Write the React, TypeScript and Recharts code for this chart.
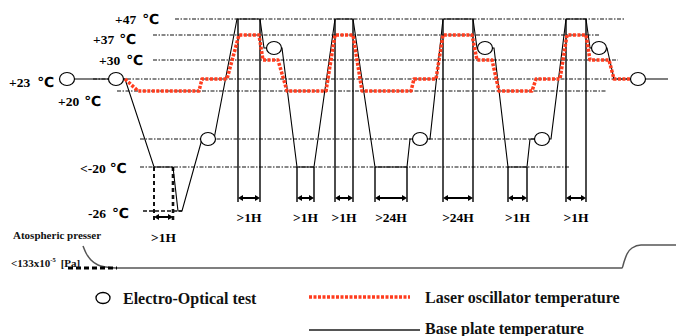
import React from "react";
import { ComposedChart, Line, XAxis, YAxis, ReferenceLine, ReferenceDot } from "recharts";

// schematic chart levels (the picture is not linear in degrees)
const L47 = 261, L37 = 245, L30 = 220, L23 = 201, L20 = 189;
const LHOT = 232, LCOLD = 141, LM20 = 113, LM26 = 69;
const LATM = 35, LVAC = 12;
const LMARK = 78, LBRACKET = 82, LSOAK_MARK = 59, LSOAK_BRACKET = 63;

const tempLabels = ["+47", "+37", "+30", "+23", "+20", "<-20", "-26"];
const tempLevels = [L47, L37, L30, L23, L20, LM20, LM26];

const pressureLabels = ["Atospheric presser", "<133x10"];
const pressureLevels = [LATM, LVAC];

// base plate temperature (time, level)
const baseT = [67, 125, 154, 173, 178, 182, 202, 214, 237, 260, 264, 282, 297, 314, 335, 353, 375, 407, 410, 430, 443, 473, 477, 494, 508, 527, 530, 551, 566, 586, 590, 607, 614, 668];
const baseLevel = [L23, L23, LM20, LM20, LM26, LM26, LCOLD, LCOLD, L47, L47, LHOT, LHOT, LM20, LM20, L47, L47, LM20, LM20, LCOLD, LCOLD, L47, L47, LHOT, LHOT, LM20, LM20, LCOLD, LCOLD, L47, L47, LHOT, LHOT, L23, L23];

// laser oscillator temperature
const laserT = [125, 138, 199, 202, 227, 239, 259, 263, 278, 287, 326, 335, 353, 362, 411, 414, 436, 443, 472, 477, 492, 499, 532, 536, 560, 567, 586, 590, 609, 614, 632];
const laserLevel = [L23, L20, L20, L23, L23, L37, L37, L30, L30, L20, L20, L37, L37, L20, L20, L23, L23, L37, L37, L30, L30, L20, L20, L23, L23, L37, L37, L30, L30, L23, L23];

// electro-optical tests
const testT = [67, 116, 208, 274, 420, 485, 542, 599, 638];
const testLevel = [L23, L23, LCOLD, LHOT, LCOLD, LHOT, LCOLD, LHOT, L23];

// dotted guide lines
const guideLevel = [L47, L37, L30, L23, L20, LCOLD, LM20];
const guideFrom = [175, 153, 153, 93, 117, 140, 140];
const guideTo = [625, 600, 618, 640, 607, 535, 569];

// dwell periods
const dwellFrom = [238, 297, 335, 375, 443, 508, 566];
const dwellTo = [260, 314, 353, 407, 473, 527, 586];
const dwellTop = [L47, LM20, L47, LM20, L47, LM20, L47];
const dwellLabels = [">1H", ">1H", ">1H", ">24H", ">24H", ">1H", ">1H"];
const soakFrom = 154, soakTo = 173, soakLabel = ">1H";

// chamber pressure
const pressT = [83, 86, 91, 98, 106, 116, 622, 624, 627, 632, 641, 676];
const pressLevel = [34, 27, 20, 15, 13, 12, 12, 18, 26, 32, 35, 35];

const legendNames = ["Electro-Optical test", "Laser oscillator temperature", "Base plate temperature"];

const RED = "#ff3c1e";
const SERIF = "'Liberation Serif', 'Times New Roman', serif";
const LABEL_X = [115, 93, 99, 9, 58, 80, 88];
const LABEL_DY = [5, 9, 5, 8, 15, 6, 7];
const DEG_GAP = [7, 6, 7, 8, 6, 5, 7];
const PRESS_X = [13, 11];
const PRESS_DY = [-6, -1];

const baseData = baseT.map((t, i) => ({ t, level: baseLevel[i] }));
const laserData = laserT.map((t, i) => ({ t, level: laserLevel[i] }));
const pressData = pressT.map((t, i) => ({ t, level: pressLevel[i] }));

function TempLabel(props: any) {
  const { cx, cy, i } = props;
  return (
    <text x={cx} y={cy + LABEL_DY[i]} fontFamily={SERIF} fontWeight="bold" fontSize={13.5} fill="#000">
      {tempLabels[i]}
      <tspan dx={DEG_GAP[i] - 1} fontFamily="'DejaVu Sans', sans-serif" fontSize={14}>℃</tspan>
    </text>
  );
}

function PressureLabel(props: any) {
  const { cx, cy, i } = props;
  if (i === 0) {
    return (
      <text x={cx} y={cy + PRESS_DY[0]} fontFamily={SERIF} fontWeight="bold" fontSize={11} fill="#111">
        {pressureLabels[0]}
      </text>
    );
  }
  return (
    <text x={cx} y={cy + PRESS_DY[1]} fontFamily={SERIF} fontWeight="bold" fontSize={11} fill="#111">
      {pressureLabels[1]}
      <tspan dy={-5} fontSize={6.5}>-5</tspan>
      <tspan dy={5} dx={5}>[Pa]</tspan>
    </text>
  );
}

function Bracket(props: any) {
  const { x1, x2, y1, text, textDy } = props;
  const a = 4;
  return (
    <g>
      <line x1={x1 + 2} x2={x2 - 2} y1={y1} y2={y1} stroke="#000" strokeWidth={2} />
      <polygon points={`${x1},${y1} ${x1 + a + 1},${y1 - 3} ${x1 + a + 1},${y1 + 3}`} fill="#000" />
      <polygon points={`${x2},${y1} ${x2 - a - 1},${y1 - 3} ${x2 - a - 1},${y1 + 3}`} fill="#000" />
      <text x={(x1 + x2) / 2} y={y1 + textDy} textAnchor="middle" fontFamily={SERIF} fontWeight="bold" fontSize={13.5} fill="#000">
        {text}
      </text>
    </g>
  );
}

function TestMark(props: any) {
  const { cx, cy } = props;
  return <ellipse cx={cx} cy={cy} rx={7.5} ry={6.5} fill="#fff" stroke="#000" strokeWidth={1.2} />;
}

export default function App() {
  return (
    <div style={{ position: "absolute", left: 0, top: 0, width: 676, height: 336, background: "#fff", overflow: "hidden" }}>
      <ComposedChart width={676} height={336} margin={{ top: 0, right: 0, bottom: 56, left: 0 }}>
        <XAxis type="number" dataKey="t" domain={[0, 676]} hide allowDataOverflow />
        <YAxis type="number" dataKey="level" domain={[0, 280]} hide allowDataOverflow />

        {guideLevel.map((lv, i) => (
          <ReferenceLine
            key={`g${i}`}
            segment={[{ x: guideFrom[i], y: lv }, { x: guideTo[i], y: lv }]}
            stroke="#111"
            strokeWidth={1.2}
            strokeDasharray="4 1.5 1.5 1.5"
          />
        ))}
        <ReferenceLine segment={[{ x: 143, y: LM26 }, { x: 182, y: LM26 }]} stroke="#111" strokeWidth={1.4} strokeDasharray="4 2" />

        {dwellFrom.map((x, i) => (
          <ReferenceLine key={`a${i}`} segment={[{ x, y: dwellTop[i] }, { x, y: LMARK }]} stroke="#000" strokeWidth={1.4} />
        ))}
        {dwellTo.map((x, i) => (
          <ReferenceLine key={`b${i}`} segment={[{ x, y: dwellTop[i] }, { x, y: LMARK }]} stroke="#000" strokeWidth={1.4} />
        ))}
        {dwellFrom.map((x, i) => (
          <ReferenceLine
            key={`c${i}`}
            segment={[{ x, y: LBRACKET }, { x: dwellTo[i], y: LBRACKET }]}
            shape={(p: any) => <Bracket {...p} text={dwellLabels[i]} textDy={24} />}
          />
        ))}

        <ReferenceLine segment={[{ x: soakFrom, y: LM20 }, { x: soakFrom, y: LSOAK_MARK }]} stroke="#111" strokeWidth={2} strokeDasharray="4 3" />
        <ReferenceLine segment={[{ x: soakTo, y: LM20 }, { x: soakTo, y: LSOAK_MARK }]} stroke="#111" strokeWidth={2.6} strokeDasharray="4 3" />
        <ReferenceLine
          segment={[{ x: soakFrom, y: LSOAK_BRACKET }, { x: soakTo, y: LSOAK_BRACKET }]}
          shape={(p: any) => <Bracket {...p} text={soakLabel} textDy={25} />}
        />

        <Line data={pressData} dataKey="level" type="monotone" stroke="#555" strokeWidth={1.5} dot={false} activeDot={false} isAnimationActive={false} />
        <ReferenceLine segment={[{ x: 68, y: LVAC }, { x: 117, y: LVAC }]} stroke="#000" strokeWidth={3} strokeDasharray="5 3" />

        <Line data={baseData} dataKey="level" type="linear" stroke="#000" strokeWidth={1.1} dot={false} activeDot={false} isAnimationActive={false} />
        <Line
          data={laserData}
          dataKey="level"
          type="linear"
          stroke={RED}
          strokeWidth={3.5}
          strokeDasharray="3 1.5"
          strokeLinejoin="round"
          dot={false}
          activeDot={false}
          isAnimationActive={false}
        />

        {testT.map((t, i) => (
          <ReferenceDot key={`d${i}`} x={t} y={testLevel[i]} r={7} shape={(p: any) => <TestMark {...p} />} />
        ))}

        {tempLevels.map((lv, i) => (
          <ReferenceDot key={`l${i}`} x={LABEL_X[i]} y={lv} r={1} shape={(p: any) => <TempLabel {...p} i={i} />} />
        ))}
        {pressureLevels.map((lv, i) => (
          <ReferenceDot key={`p${i}`} x={PRESS_X[i]} y={lv} r={1} shape={(p: any) => <PressureLabel {...p} i={i} />} />
        ))}
      </ComposedChart>

      <svg width={676} height={56} style={{ position: "absolute", left: 0, top: 280 }}>
        <ellipse cx={103} cy={18} rx={7} ry={5.5} fill="#fff" stroke="#000" strokeWidth={1.3} />
        <text x={123} y={24} fontFamily={SERIF} fontWeight="bold" fontSize={16} fill="#111">{legendNames[0]}</text>
        <line x1={309} x2={410} y1={17} y2={17} stroke={RED} strokeWidth={3.5} strokeDasharray="3 1.5" />
        <text x={425} y={23} fontFamily={SERIF} fontWeight="bold" fontSize={16} fill="#111">{legendNames[1]}</text>
        <line x1={309} x2={420} y1={50} y2={50} stroke="#555" strokeWidth={2} />
        <text x={425} y={54} fontFamily={SERIF} fontWeight="bold" fontSize={16} fill="#111">{legendNames[2]}</text>
      </svg>
    </div>
  );
}
